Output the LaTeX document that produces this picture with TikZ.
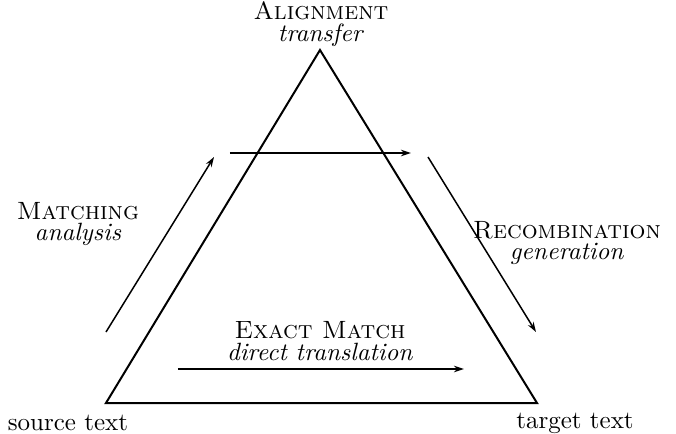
\documentclass[tikz,border=0pt]{standalone}
\usetikzlibrary{arrows.meta}
\begin{document}
\begin{tikzpicture}[x=0.4pt,y=-0.4pt,
    frame/.style={line width=0.8pt,line join=miter},
    flow/.style={line width=0.6pt,-{Stealth[length=4pt,width=2.6pt]}},
    label/.style={align=center,inner sep=0pt,font=\fontsize{10}{8.6}\selectfont},
    corner/.style={inner sep=0pt,font=\fontsize{10}{12}\selectfont}]
  \useasboundingbox (0,0) rectangle (676,434);
  % corners of the pyramid
  \coordinate (apex) at (320,50);
  \coordinate (bl) at (106,403);
  \coordinate (br) at (537,403);
  \draw[frame] (bl) -- (apex) -- (br) -- cycle;
  % arrow end points
  \coordinate (m1) at (106,332);
  \coordinate (m2) at (214,157);
  \coordinate (t1) at (230,153);
  \coordinate (t2) at (411,153);
  \coordinate (r1) at (428,157);
  \coordinate (r2) at (536,332);
  \coordinate (e1) at (178,369);
  \coordinate (e2) at (464,369);
  \draw[flow] (m1) -- (m2);
  \draw[flow] (t1) -- (t2);
  \draw[flow] (r1) -- (r2);
  \draw[flow] (e1) -- (e2);
  % labels
  \node[label] (align) at (321,24) {\textsc{Alignment}\\\textit{transfer}};
  \node[label] (match) at (78,224) {\textsc{Matching}\\\textit{analysis}};
  \node[label] (recomb) at (567,243) {\textsc{Recombination}\\\textit{generation}};
  \node[label] (exact) at (320,341) {\textsc{Exact Match}\\\textit{direct translation}};
  \node[corner] (src) at (68,423) {source text};
  \node[corner] (tgt) at (575,423) {target text};
\end{tikzpicture}
\end{document}
